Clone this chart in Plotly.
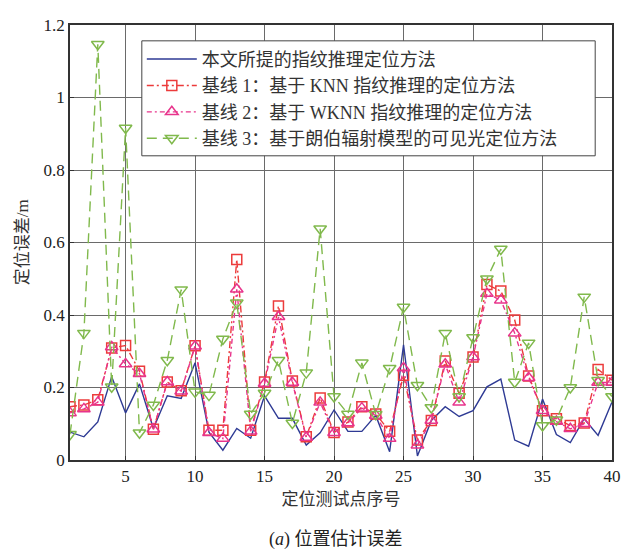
import plotly.graph_objects as go

x = list(range(1, 41))

proposed = [0.077, 0.064, 0.105, 0.23, 0.13, 0.21, 0.087, 0.177, 0.17, 0.268,
            0.077, 0.027, 0.087, 0.06, 0.177, 0.115, 0.115, 0.041, 0.075, 0.138,
            0.079, 0.079, 0.123, 0.023, 0.318, 0.011, 0.109, 0.147, 0.12, 0.136,
            0.202, 0.223, 0.055, 0.038, 0.168, 0.07, 0.048, 0.114, 0.068, 0.16]

knn = [0.147, 0.152, 0.166, 0.309, 0.316, 0.245, 0.085, 0.215, 0.191, 0.315,
       0.082, 0.082, 0.553, 0.082, 0.215, 0.425, 0.218, 0.064, 0.171, 0.076,
       0.105, 0.147, 0.127, 0.079, 0.234, 0.055, 0.109, 0.273, 0.184, 0.284,
       0.484, 0.466, 0.386, 0.232, 0.136, 0.114, 0.095, 0.102, 0.25, 0.22]

wknn = [0.13, 0.141, 0.159, 0.312, 0.265, 0.238, 0.085, 0.215, 0.19, 0.314,
        0.075, 0.059, 0.471, 0.079, 0.211, 0.395, 0.214, 0.062, 0.159, 0.075,
        0.102, 0.143, 0.123, 0.059, 0.254, 0.041, 0.109, 0.264, 0.159, 0.284,
        0.459, 0.441, 0.35, 0.227, 0.136, 0.106, 0.086, 0.1, 0.214, 0.214]

lambert = [0.071, 0.35, 1.147, 0.202, 0.916, 0.075, 0.152, 0.275, 0.47, 0.188,
           0.179, 0.334, 0.434, 0.127, 0.185, 0.275, 0.102, 0.241, 0.638, 0.175,
           0.127, 0.268, 0.126, 0.253, 0.422, 0.206, 0.145, 0.35, 0.175, 0.338,
           0.5, 0.582, 0.215, 0.323, 0.095, 0.111, 0.2, 0.45, 0.22, 0.175]

names = ["本文所提的指纹推理定位方法",
         "基线 1：基于 KNN 指纹推理的定位方法",
         "基线 2：基于 WKNN 指纹推理的定位方法",
         "基线 3：基于朗伯辐射模型的可见光定位方法"]

xticks = [5, 10, 15, 20, 25, 30, 35, 40]
yticks = [0, 0.2, 0.4, 0.6, 0.8, 1.0, 1.2]

FONT = "Liberation Serif, Noto Sans CJK SC, serif"

fig = go.Figure()
fig.add_trace(go.Scatter(x=x, y=proposed, name=names[0], mode="lines",
                         line=dict(color="#2e3a94", width=1.4), legendgroup="a"))
fig.add_trace(go.Scatter(x=x, y=knn, name=names[1], mode="lines+markers",
                         line=dict(color="#ec3b3b", width=1.4, dash="7px,3px,2px,3px"),
                         marker=dict(symbol="square-open", size=10, color="#ec3b3b", line=dict(width=1.5)),
                         legendgroup="b"))
fig.add_trace(go.Scatter(x=x, y=wknn, name=names[2], mode="lines+markers",
                         line=dict(color="#e8348c", width=1.4, dash="5px,3px,2px,3px"),
                         marker=dict(symbol="triangle-up-open", size=11, color="#e8348c", line=dict(width=1.5)),
                         legendgroup="c"))
fig.add_trace(go.Scatter(x=x, y=lambert, name=names[3], mode="lines+markers",
                         line=dict(color="#80b94c", width=1.4, dash="10px,6px"),
                         marker=dict(symbol="triangle-down-open", size=11, color="#80b94c", line=dict(width=1.5)),
                         legendgroup="d"))

axis_common = dict(showline=True, linecolor="#333333", linewidth=1.5, mirror=True,
                   showgrid=True, gridcolor="#6a6a6a", gridwidth=1.2,
                   ticks="inside", ticklen=4, tickcolor="#333333",
                   zeroline=False, tickfont=dict(family=FONT, size=17, color="#222222"))

fig.update_xaxes(range=[1, 40], tickvals=xticks, **axis_common,
                 title=dict(text="定位测试点序号", font=dict(family=FONT, size=17, color="#333333"), standoff=8))
fig.update_yaxes(range=[0, 1.2], tickvals=yticks, **axis_common)

# legend frame (plot-area fractions) drawn as a shape so it can be wider than the text
lx0, lx1, ly0, ly1 = 0.1325, 0.9690, 0.6993, 0.9636

# page body has an 8px default margin, so the figure is sized to fit the 629x553 window
fig.update_layout(
    width=621, height=545,
    margin=dict(l=62, r=8, t=13, b=93),
    plot_bgcolor="white", paper_bgcolor="white",
    font=dict(family=FONT, color="#222222"),
    shapes=[dict(type="rect", xref="paper", yref="paper", x0=lx0, x1=lx1, y0=ly0, y1=ly1,
                 fillcolor="white", line=dict(color="#444444", width=1), layer="above")],
    legend=dict(x=lx0, y=ly1, xanchor="left", yanchor="top",
                bgcolor="rgba(0,0,0,0)", borderwidth=0,
                font=dict(family=FONT, size=18, color="#333333"),
                itemwidth=50, traceorder="grouped", tracegroupgap=0),
    annotations=[
        dict(text="(<i>a</i>) 位置估计误差", xref="paper", yref="paper",
             x=0.49, y=-0.182, xanchor="center", yanchor="middle", showarrow=False,
             font=dict(family=FONT, size=18, color="#222222")),
        dict(text="定位误差/m", xref="paper", yref="paper", textangle=-90,
             x=-0.087, y=0.5, xanchor="center", yanchor="middle", showarrow=False,
             font=dict(family=FONT, size=17, color="#333333")),
    ],
)

fig.write_html("out.html")
